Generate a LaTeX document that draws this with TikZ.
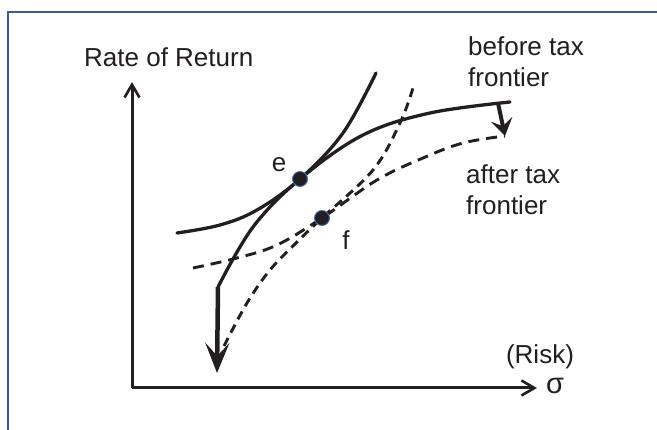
\documentclass[tikz,border=0pt]{standalone}
\usepackage{fontspec}
\setmainfont{Liberation Sans}
\usetikzlibrary{arrows.meta}
\definecolor{ink}{HTML}{231F20}
\definecolor{framec}{HTML}{3A5A9C}
\definecolor{dotring}{HTML}{3F6FC0}
\begin{document}
\begin{tikzpicture}[x=1pt,y=-1pt,
  lbl/.style={font=\fontsize{26}{31}\selectfont, text=ink, inner sep=0pt},
  axis/.style={draw=ink, line width=3pt, -{Straight Barb[length=13pt,width=15pt,line width=2.6pt]}},
  curve/.style={draw=ink, line width=3.3pt, line cap=round},
  dcurve/.style={draw=ink, line width=2.9pt, dash pattern=on 11pt off 7pt},
  dcurveb/.style={draw=ink, line width=2.9pt, dash pattern=on 9pt off 6pt},
  bigarrow/.style={draw=ink, fill=ink, line width=4.5pt, -{Stealth[length=30pt,width=24pt,inset=13pt]}},
  smallarrow/.style={draw=ink, fill=ink, line width=4pt, -{Stealth[length=17pt,width=22pt,inset=7pt]}},
  dot/.style={circle, fill=ink, draw=dotring, line width=0.9pt, minimum size=15pt, inner sep=0pt}
]
\useasboundingbox (0,0) rectangle (657,430);
\fill[white] (0,0) rectangle (657,430);
\draw[framec, line width=2pt] (8,431) -- (8,12) -- (658,12);

% axes
\coordinate (o) at (132,388);
\coordinate (ytip) at (132,82);
\coordinate (xtip) at (537,388);
\draw[axis] (o) -- (ytip);
\draw[axis] (o) -- (xtip);

% before-tax frontier
\draw[curve] plot[smooth, tension=0.6] coordinates {(218,287) (253,227) (300,179) (363,135) (430,113) (510,102)};
% indifference curve through e
\draw[curve] plot[smooth, tension=0.6] coordinates {(177,233) (220,225) (257,210) (300,179) (343,133) (376,73)};
% after-tax frontier
\draw[dcurve] plot[smooth, tension=0.6] coordinates {(193,268) (237,258) (277,245) (322,218) (377,180) (423,158) (463,143) (505,136)};
% indifference curve through f
\draw[dcurveb] plot[smooth, tension=0.6] coordinates {(224,346) (247,303) (270,270) (297,242) (322,218) (373,170) (400,123) (413,88)};

% shift arrows
\coordinate (a1s) at (218,287);
\coordinate (a1e) at (217,373);
\draw[bigarrow] (a1s) -- (a1e);
\coordinate (a2s) at (498,103);
\coordinate (a2e) at (505,136);
\draw[smallarrow] (a2s) -- (a2e);

% points
\node[dot] (e) at (300,179) {};
\node[dot] (f) at (322,218) {};

% labels
\node[lbl, anchor=base west] (ylab) at (84,67) {Rate of Return};
\node[lbl, anchor=north west, align=left] (bt) at (468,36) {before tax\\frontier};
\node[lbl, anchor=north west, align=left] (at) at (466,164) {after tax\\frontier};
\node[lbl] (elab) at (279,165) {e};
\node[lbl, anchor=base] (flab) at (346,250) {f};
\node[lbl, anchor=base] (risk) at (540,364) {(Risk)};
\node[lbl, font=\fontsize{29}{31}\selectfont] (sig) at (555,386) {σ};
\end{tikzpicture}
\end{document}
